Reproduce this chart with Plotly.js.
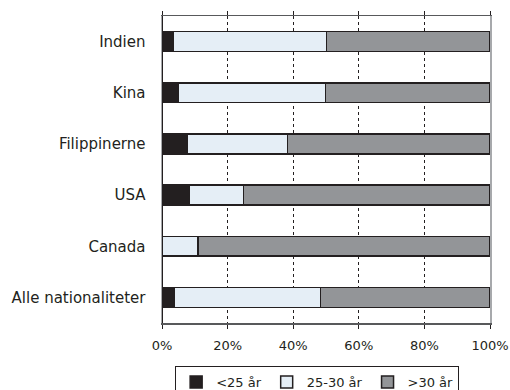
<!DOCTYPE html>
<html><head><meta charset="utf-8">
<script src="https://cdn.plot.ly/plotly-3.0.1.min.js"></script>
<style>html,body{margin:0;padding:0;background:#fff}#c{width:510px;height:390px}</style>
</head><body><div id="c"></div>
<script>
var categories = ["Indien", "Kina", "Filippinerne", "USA", "Canada", "Alle nationaliteter"];
var under25 = [3.4, 4.9, 7.8, 8.4, 0, 3.8];
var age25to30 = [46.7, 44.9, 30.5, 16.4, 10.9, 44.5];
var over30 = [49.9, 50.2, 61.7, 75.2, 89.1, 51.7];
var seriesNames = ["<25 år", "25-30 år", ">30 år"];
var seriesColors = ["#231f20", "#e5eef6", "#939598"];
var tickVals = [0, 20, 40, 60, 80, 100];
var tickText = ["0%", "20%", "40%", "60%", "80%", "100%"];

var font = "DejaVu Sans, sans-serif";
var series = [under25, age25to30, over30];
var traces = series.map(function (vals, i) {
  return {
    type: "bar", orientation: "h", x: vals, y: categories, name: seriesNames[i],
    width: 0.39,
    marker: {color: seriesColors[i], line: {color: "#231f20", width: 1.5}},
    hoverinfo: "skip"
  };
});

var layout = {
  width: 510, height: 390,
  margin: {l: 162, r: 20, t: 16, b: 67},
  paper_bgcolor: "#fff", plot_bgcolor: "#fff",
  barmode: "stack", bargap: 0.61,
  font: {family: font, size: 14, color: "#231f20"},
  showlegend: true,
  legend: {
    orientation: "h", x: 0.473, xanchor: "center", yref: "container", y: 0.0615, yanchor: "top",
    bordercolor: "#231f20", borderwidth: 1, font: {family: font, size: 13, color: "#231f20"},
    traceorder: "normal", itemwidth: 30
  },
  xaxis: {
    range: [0, 100.0001], tickvals: tickVals, ticktext: tickText,
    ticks: "outside", ticklen: 4, tickcolor: "#231f20", tickwidth: 1, mirror: "allticks",
    showgrid: true, gridcolor: "#231f20", griddash: "dot", gridwidth: 1,
    zeroline: true, zerolinecolor: "#231f20", zerolinewidth: 1.5,
    showline: true, linecolor: "#58595b", linewidth: 1.5,
    tickfont: {family: font, size: 13, color: "#231f20"}, ticklabelstandoff: 6,
    fixedrange: true
  },
  yaxis: {
    autorange: "reversed", ticks: "", showgrid: false, zeroline: false,
    showline: true, mirror: true, linecolor: "#a7a9ac", linewidth: 1.5,
    tickfont: {family: font, size: 15, color: "#231f20"}, ticklabelstandoff: 12,
    fixedrange: true
  }
};
Plotly.newPlot("c", traces, layout, {displayModeBar: false, staticPlot: true});
</script></body></html>
